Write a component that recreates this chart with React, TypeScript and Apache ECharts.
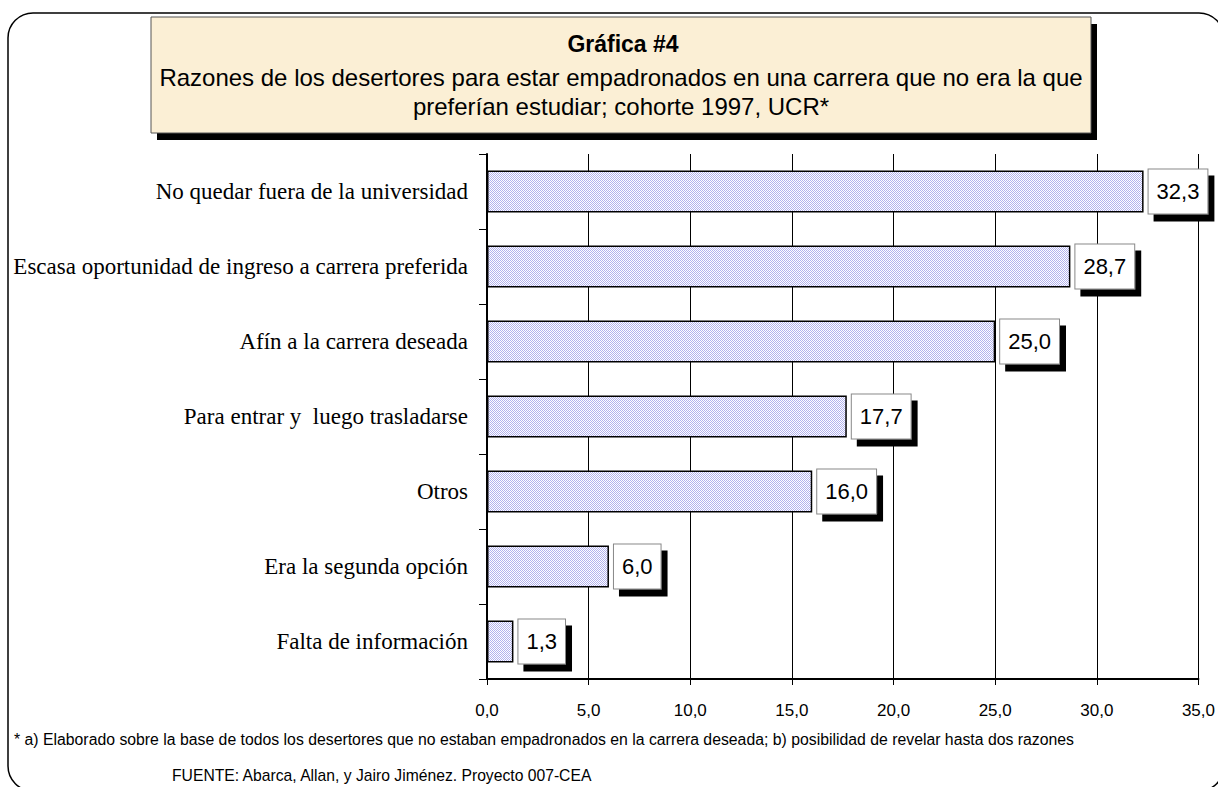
import React, { useEffect, useRef } from "react";
import * as echarts from "echarts";

const categories = [
  "Falta de información",
  "Era la segunda opción",
  "Otros",
  "Para entrar y  luego trasladarse",
  "Afín a la carrera deseada",
  "Escasa oportunidad de ingreso a carrera preferida",
  "No quedar fuera de la universidad",
];
const values = [1.3, 6.0, 16.0, 17.7, 25.0, 28.7, 32.3];
const xTicks = [0, 5, 10, 15, 20, 25, 30, 35];

const titleMain = "Gráfica #4";
const titleLine2 = "Razones de los desertores para estar empadronados en una carrera que no era la que";
const titleLine3 = "preferían estudiar; cohorte 1997, UCR*";
const footnote =
  "* a) Elaborado sobre la base de todos los desertores que no estaban empadronados en la carrera deseada; b) posibilidad de revelar hasta dos razones";
const source = "FUENTE: Abarca, Allan, y Jairo Jiménez. Proyecto 007-CEA";

function makePattern(): any {
  const c = document.createElement("canvas");
  c.width = 2;
  c.height = 2;
  const ctx = c.getContext("2d")!;
  ctx.fillStyle = "#ffffff";
  ctx.fillRect(0, 0, 2, 2);
  ctx.fillStyle = "#b2b2ee";
  ctx.fillRect(0, 0, 1, 1);
  ctx.fillRect(1, 1, 1, 1);
  return { image: c, repeat: "repeat" };
}

const fmt = (v: number) => v.toFixed(1).replace(".", ",");
const SANS = "Arial, 'Liberation Sans', sans-serif";

export default function App() {
  const ref = useRef<HTMLDivElement>(null);
  useEffect(() => {
    if (!ref.current) return;
    const chart = echarts.init(ref.current, null, { renderer: "svg" });
    const option: any = {
      animation: false,
      backgroundColor: "#ffffff",
      grid: { left: 487, right: 16, top: 154, bottom: 108, containLabel: false },
      xAxis: {
        type: "value",
        min: xTicks[0],
        max: xTicks[xTicks.length - 1],
        interval: 5,
        axisLine: { show: true, lineStyle: { color: "#000", width: 2 } },
        axisTick: { show: true, length: 6, lineStyle: { color: "#000" } },
        axisLabel: {
          color: "#000",
          fontFamily: SANS,
          fontSize: 17,
          margin: 23,
          formatter: (v: number) => fmt(v),
        },
        splitLine: { show: true, lineStyle: { color: "#000", width: 1 } },
      },
      yAxis: {
        type: "category",
        data: categories,
        axisLine: { show: true, lineStyle: { color: "#000", width: 2 } },
        axisTick: { show: true, length: 8, lineStyle: { color: "#000" } },
        axisLabel: {
          color: "#000",
          fontFamily: "'Liberation Serif', 'Times New Roman', serif",
          fontSize: 23,
          margin: 19,
        },
      },
      series: [
        {
          type: "bar",
          data: values,
          barWidth: "56%",
          itemStyle: { color: makePattern(), borderColor: "#000", borderWidth: 1.5 },
          label: {
            show: true,
            position: "right",
            distance: 5,
            formatter: (p: any) => fmt(p.value),
            color: "#000",
            fontFamily: SANS,
            fontSize: 22,
            lineHeight: 26,
            backgroundColor: "#fff",
            borderColor: "#888",
            borderWidth: 1,
            padding: [9, 8, 9, 8],
            shadowColor: "#000",
            shadowBlur: 0,
            shadowOffsetX: 6,
            shadowOffsetY: 7,
          },
        },
      ],
      graphic: [
        {
          type: "rect",
          shape: { x: 8, y: 13, width: 1216, height: 778, r: 25 },
          style: { fill: "none", stroke: "#000", lineWidth: 1.5 },
          z: 0,
        },
        {
          type: "rect",
          shape: { x: 157, y: 24, width: 940, height: 116 },
          style: { fill: "#000" },
          z: 1,
        },
        {
          type: "rect",
          shape: { x: 151, y: 17, width: 940, height: 116 },
          style: { fill: "#fbefd5", stroke: "#555", lineWidth: 1 },
          z: 2,
        },
        {
          type: "text",
          x: 623,
          y: 44,
          style: {
            text: titleMain,
            fontFamily: SANS,
            fontWeight: "bold",
            fontSize: 23,
            fill: "#000",
            align: "center",
            verticalAlign: "middle",
          },
          z: 3,
        },
        {
          type: "text",
          x: 621,
          y: 77,
          style: {
            text: titleLine2,
            fontFamily: SANS,
            fontSize: 24,
            fill: "#000",
            align: "center",
            verticalAlign: "middle",
          },
          z: 3,
        },
        {
          type: "text",
          x: 621,
          y: 106,
          style: {
            text: titleLine3,
            fontFamily: SANS,
            fontSize: 24,
            fill: "#000",
            align: "center",
            verticalAlign: "middle",
          },
          z: 3,
        },
        {
          type: "text",
          x: 14,
          y: 739,
          style: {
            text: footnote,
            fontFamily: SANS,
            fontSize: 15.8,
            fill: "#000",
            align: "left",
            verticalAlign: "middle",
          },
          z: 3,
        },
        {
          type: "text",
          x: 172,
          y: 775,
          style: {
            text: source,
            fontFamily: SANS,
            fontSize: 15.7,
            fill: "#000",
            align: "left",
            verticalAlign: "middle",
          },
          z: 3,
        },
      ],
    };
    chart.setOption(option);
    return () => chart.dispose();
  }, []);
  return (
    <div
      ref={ref}
      style={{ position: "fixed", left: 0, top: 0, width: 1218, height: 787 }}
    />
  );
}
